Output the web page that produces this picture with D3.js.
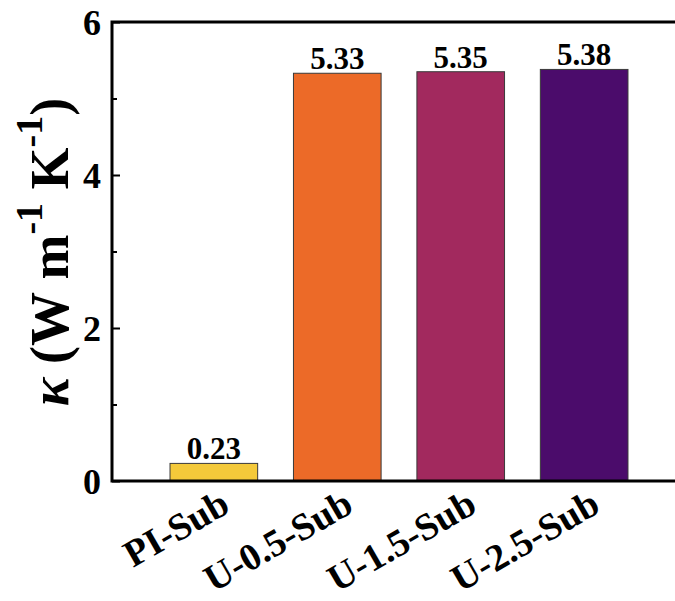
<!DOCTYPE html>
<html>
<head>
<meta charset="utf-8">
<script src="https://cdn.jsdelivr.net/npm/d3@7"></script>
<style>
  body { margin: 0; background: #fff; }
  text { font-family: "Times New Roman", "Liberation Serif", Times, serif; font-weight: bold; }
</style>
</head>
<body>
<svg id="chart" width="675" height="601"></svg>
<script>
const categories = ['PI-Sub', 'U-0.5-Sub', 'U-1.5-Sub', 'U-2.5-Sub'];
const values = [0.23, 5.33, 5.35, 5.38];
const valueLabels = ['0.23', '5.33', '5.35', '5.38'];
const colors = ['#f4c93a', '#ec6a28', '#a2295e', '#4b0c6b'];
const yTicks = [0, 2, 4, 6];
const yMinorTicks = [1, 3, 5];

const svg = d3.select('#chart');
const margin = {left: 112, top: 22, bottom: 481};

const x = d3.scaleBand()
    .domain(categories)
    .range([margin.left, 686])
    .paddingInner(0.29)
    .paddingOuter(0.47);

const y = d3.scaleLinear()
    .domain([0, 6])
    .range([margin.bottom, margin.top]);

// bars
svg.append('g')
  .selectAll('rect')
  .data(values)
  .join('rect')
    .attr('x', (d, i) => x(categories[i]))
    .attr('y', d => y(d))
    .attr('width', x.bandwidth())
    .attr('height', d => y(0) - y(d))
    .attr('fill', (d, i) => colors[i])
    .attr('stroke', '#3a3a3a')
    .attr('stroke-width', 1);

// value labels
svg.append('g')
  .selectAll('text')
  .data(values)
  .join('text')
    .attr('x', (d, i) => x(categories[i]) + x.bandwidth() / 2)
    .attr('y', d => y(d) - 4)
    .attr('text-anchor', 'middle')
    .attr('font-size', 31)
    .text((d, i) => valueLabels[i]);

// y axis: ticks point inward
const yAxis = svg.append('g')
    .attr('transform', `translate(${margin.left},0)`)
    .call(d3.axisRight(y).tickValues(yTicks).tickSize(8).tickFormat(''));
yAxis.select('.domain').remove();
yAxis.selectAll('line').attr('stroke', '#000').attr('stroke-width', 2);

const yMinor = svg.append('g')
    .attr('transform', `translate(${margin.left},0)`)
    .call(d3.axisRight(y).tickValues(yMinorTicks).tickSize(5).tickFormat(''));
yMinor.select('.domain').remove();
yMinor.selectAll('line').attr('stroke', '#000').attr('stroke-width', 2);

svg.append('g')
  .selectAll('text')
  .data(yTicks)
  .join('text')
    .attr('x', margin.left - 11)
    .attr('y', d => y(d))
    .attr('dy', '0.35em')
    .attr('text-anchor', 'end')
    .attr('font-size', 36)
    .text(d => d);

// frame lines (left, bottom, top)
svg.append('path')
    .attr('d', `M675,${margin.top}H${margin.left}V${margin.bottom}H675`)
    .attr('fill', 'none')
    .attr('stroke', '#000')
    .attr('stroke-width', 3);

// x category labels, rotated
svg.append('g')
  .selectAll('text')
  .data(categories)
  .join('text')
    .attr('transform', d => `translate(${x(d) + x.bandwidth() / 2 + 18},${margin.bottom + 30}) rotate(-30)`)
    .attr('text-anchor', 'end')
    .attr('font-size', 38)
    .text(d => d);

// y axis title
const title = svg.append('text')
    .attr('transform', 'translate(68,252) rotate(-90)')
    .attr('text-anchor', 'middle')
    .attr('font-size', 54);
title.append('tspan').attr('font-style', 'italic').text('κ');
title.append('tspan').text(' (W m');
title.append('tspan').attr('font-size', 38).attr('dy', -26).text('-1');
title.append('tspan').attr('dy', 26).text(' K');
title.append('tspan').attr('font-size', 38).attr('dy', -26).text('-1');
title.append('tspan').attr('dy', 26).text(')');
</script>
</body>
</html>
